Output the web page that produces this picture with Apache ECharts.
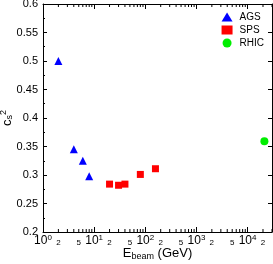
<!DOCTYPE html>
<html><head><meta charset="utf-8">
<script src="https://cdn.jsdelivr.net/npm/echarts@6/dist/echarts.min.js"></script>
<style>html,body{margin:0;padding:0;background:#fff}#c{width:273px;height:264px}</style>
</head><body><div id="c"></div>
<script>
const agsE = [2, 4, 6, 8];
const agsC = [0.5, 0.345, 0.325, 0.298];
const spsE = [20, 30, 40, 80, 158];
const spsC = [0.284, 0.282, 0.284, 0.301, 0.311];
const rhicE = [21300];
const rhicC = [0.359];
const xMinorTicks = [];
[1, 10, 100, 1000, 10000].forEach(d => { for (let k = 2; k <= 9; k++) { if (k * d <= 30000) xMinorTicks.push(k * d); } });
const xMinorLabels = [2, 5, 20, 50, 200, 500, 2000, 5000, 20000];
const xMinorLabelText = ['2', '5', '2', '5', '2', '5', '2', '5', '2'];

const font = 'Liberation Sans, Arial, sans-serif';
const chart = echarts.init(document.getElementById('c'), null, {renderer: 'canvas'});
const supRich = {sup: {fontSize: 8, fontFamily: font, color: '#000', padding: [0, 0, 6, 0]}};

function minorRender(params, api) {
  const v = api.value(0);
  const b = api.coord([v, 0.2]);
  const t = api.coord([v, 0.6]);
  const children = [
    {type: 'line', shape: {x1: b[0], y1: b[1], x2: b[0], y2: b[1] - 3}, style: {stroke: '#000', lineWidth: 1}},
    {type: 'line', shape: {x1: t[0], y1: t[1], x2: t[0], y2: t[1] + 3}, style: {stroke: '#000', lineWidth: 1}}
  ];
  const idx = xMinorLabels.indexOf(v);
  if (idx >= 0) {
    children.push({type: 'text', x: b[0], y: b[1] + 11, style: {text: xMinorLabelText[idx], fontSize: 8, fontFamily: font, fill: '#000', align: 'center', verticalAlign: 'middle'}});
  }
  return {type: 'group', children};
}

chart.setOption({
  animation: false,
  grid: {left: 43, right: 1, top: 4, bottom: 32, containLabel: false, outerBoundsMode: 'none'},
  legend: {
    orient: 'vertical', right: 4, top: 7, itemGap: 3, itemWidth: 11, itemHeight: 9,
    textStyle: {fontSize: 10, fontFamily: font, color: '#000', padding: [0, 0, 0, 2]},
    data: ['AGS', 'SPS', 'RHIC']
  },
  xAxis: [{
    type: 'log', logBase: 10, min: 1, max: 30000, interval: 1,
    name: 'E{sub|beam} (GeV)', nameLocation: 'middle', nameGap: 14, nameMoveOverlap: false,
    nameTextStyle: {fontSize: 13, fontFamily: font, color: '#000',
      rich: {sub: {fontSize: 9, fontFamily: font, color: '#000', padding: [6, 0, 0, 0]}}},
    axisLine: {lineStyle: {color: '#000', width: 1}},
    axisTick: {inside: true, length: 5, lineStyle: {color: '#000'}},
    axisLabel: {fontSize: 12, fontFamily: font, color: '#000', margin: 2, showMaxLabel: false,
      formatter: v => { const e = Math.round(Math.log10(v)); return Math.abs(v - Math.pow(10, e)) < 1e-6 * v ? '10{sup|' + e + '}' : ''; },
      rich: supRich},
    splitLine: {show: false}
  }, {
    type: 'log', logBase: 10, min: 1, max: 30000, interval: 1, position: 'top',
    axisLine: {lineStyle: {color: '#000', width: 1}},
    axisTick: {inside: true, length: 5, lineStyle: {color: '#000'}},
    axisLabel: {show: false}, splitLine: {show: false}
  }],
  yAxis: [{
    type: 'value', min: 0.2, max: 0.6, interval: 0.05,
    name: 'c{sub|s}{sup|2}', nameLocation: 'middle', nameGap: 28, nameRotate: 90, nameMoveOverlap: false,
    nameTextStyle: {fontSize: 13, fontFamily: font, color: '#000',
      rich: {sub: {fontSize: 9, fontFamily: font, color: '#000', padding: [6, 0, 0, 0]},
             sup: {fontSize: 9, fontFamily: font, color: '#000', padding: [0, 0, 7, 0]}}},
    axisLine: {lineStyle: {color: '#000', width: 1}},
    axisTick: {inside: true, length: 4, lineStyle: {color: '#000'}},
    minorTick: {show: true, splitNumber: 2, length: 2, lineStyle: {color: '#000'}},
    axisLabel: {fontSize: 11, fontFamily: font, color: '#000', margin: 5},
    splitLine: {show: false}
  }, {
    type: 'value', min: 0.2, max: 0.6, interval: 0.05, position: 'right',
    axisLine: {lineStyle: {color: '#000', width: 1}},
    axisTick: {inside: true, length: 4, lineStyle: {color: '#000'}},
    axisLabel: {show: false}, splitLine: {show: false}
  }],
  series: [
    {name: 'AGS', type: 'scatter', symbol: 'triangle', symbolSize: 8, itemStyle: {color: '#0000ff', opacity: 1},
     data: agsE.map((e, i) => [e, agsC[i]])},
    {name: 'SPS', type: 'scatter', symbol: 'rect', symbolSize: 7, itemStyle: {color: '#ff0000', opacity: 1},
     data: spsE.map((e, i) => [e, spsC[i]])},
    {name: 'RHIC', type: 'scatter', symbol: 'circle', symbolSize: 8, itemStyle: {color: '#00ee00', opacity: 1},
     data: rhicE.map((e, i) => [e, rhicC[i]])},
    {type: 'custom', renderItem: minorRender, clip: false, silent: true,
     data: xMinorTicks.map(v => [v, 0.2])}
  ]
});
</script>
</body></html>
